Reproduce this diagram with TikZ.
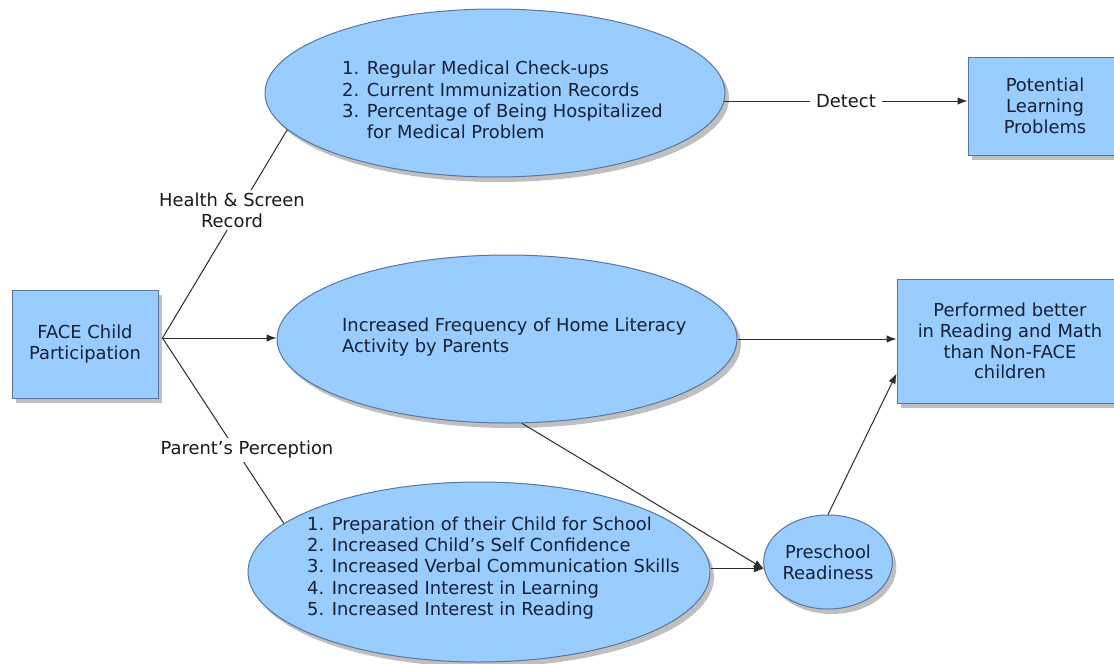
\documentclass[tikz,border=0pt]{standalone}
\usepackage{fontspec}
\setmainfont{DejaVu Sans}
\usetikzlibrary{shadows,arrows.meta,calc,shapes.geometric}
\definecolor{fillblue}{RGB}{153,204,255}
\definecolor{edgeblue}{RGB}{88,118,160}
\definecolor{navytext}{RGB}{22,32,55}
\definecolor{linegray}{RGB}{45,45,45}
\tikzset{
  shapebase/.style={fill=fillblue, draw=edgeblue, line width=1pt, text=navytext,
    drop shadow={shadow xshift=4pt, shadow yshift=-5pt, fill=black!50, opacity=0.5}},
  boxnode/.style={shapebase, rectangle, inner sep=0pt, align=center},
  ovalnode/.style={shapebase, ellipse, inner sep=0pt, align=center},
  listtext/.style={anchor=west, align=left, text=navytext, inner sep=0pt,
    font=\fontsize{17.9}{21.3}\selectfont},
  lbl/.style={fill=white, inner xsep=6pt, inner ysep=3pt, text=black!90, align=center},
  conn/.style={draw=linegray, line width=1pt},
  arr/.style={conn, -{Latex[length=10pt,width=7.5pt]}},
}
\begin{document}
\begin{tikzpicture}[x=1pt,y=-1pt,font=\fontsize{17.9}{20.8}\selectfont]
\path[use as bounding box, fill=white] (0,0) rectangle (1114,664);
\clip (0,0) rectangle (1114,664);

% boxes
\node[boxnode, minimum width=146pt, minimum height=108pt] (face) at (85,344) {FACE Child\\Participation};
\node[boxnode, minimum width=154pt, minimum height=98pt] (pot) at (1045,106) {Potential\\Learning\\Problems};
\node[boxnode, minimum width=226pt, minimum height=124pt] (perf) at (1010,341) {Performed better\\in Reading and Math\\than Non-FACE\\children};

% ellipses
\node[ovalnode, minimum width=460pt, minimum height=168pt] (top) at (495,93) {};
\node[listtext] (toptext) at (342,100) {1. Regular Medical Check-ups\\2. Current Immunization Records\\3. Percentage of Being Hospitalized\\\hphantom{3. }for Medical Problem};

\node[ovalnode, minimum width=460pt, minimum height=168pt] (mid) at (507,339) {};
\node[listtext] (midtext) at (342,337) {Increased Frequency of Home Literacy\\Activity by Parents};

\node[ovalnode, minimum width=462pt, minimum height=180pt] (bot) at (479,572) {};
\node[listtext] (bottext) at (307,568) {1. Preparation of their Child for School\\2. Increased Child’s Self Confidence\\3. Increased Verbal Communication Skills\\4. Increased Interest in Learning\\5. Increased Interest in Reading};

\node[ovalnode, minimum width=114pt, minimum height=94pt] (pre) at (828,562) {Preschool\\Readiness};

% connectors
\coordinate (fork) at ($(face.east)+(4,-6)$);
\draw[conn] (fork) -- (top.190);
\draw[conn] (fork) -- (bot.166);
\draw[arr] (fork) -- (fork -| mid.west);
\draw[arr] (top.-2) -- node[lbl] (detect) {Detect} (top.-2 -| pot.west);
\draw[arr] (mid.east) -- (mid.east -| perf.west);
\draw[arr] (pre.north) -- (perf.196);
\draw[arr] (mid.280) -- (pre.186);
\draw[arr] (bot.east |- pre.186) -- (pre.186);

% labels
\node[lbl] (health) at (232,210) {Health \& Screen\\Record};
\node[lbl] (perc) at (247,450) {Parent’s Perception};
\end{tikzpicture}
\end{document}
